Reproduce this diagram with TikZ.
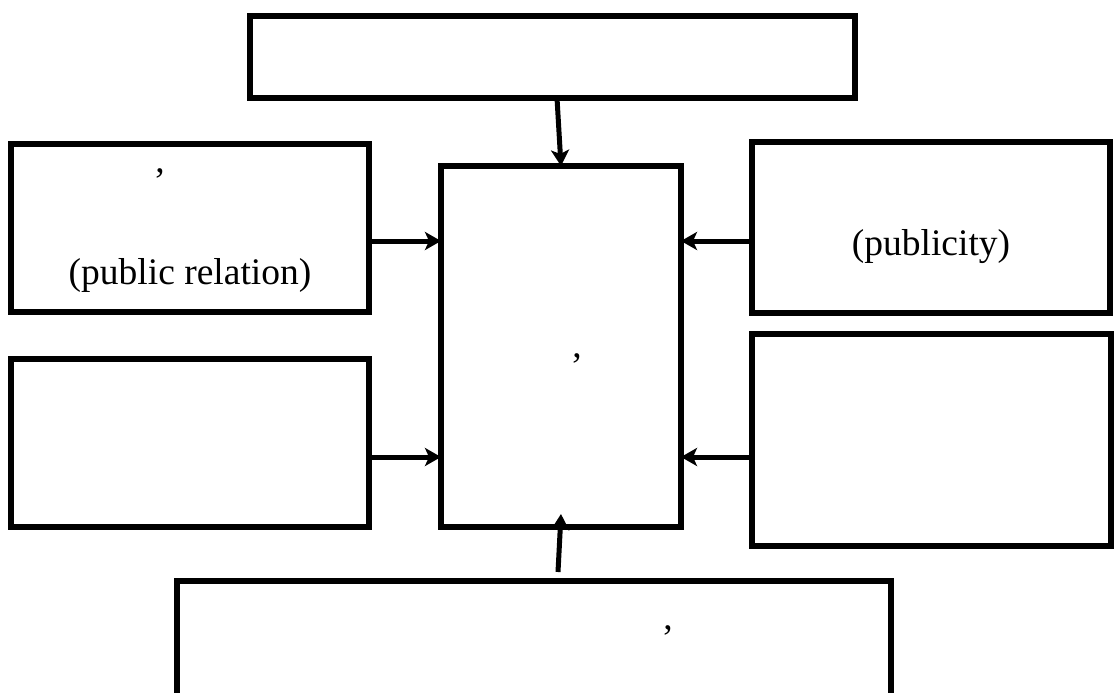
\documentclass[tikz,border=0pt]{standalone}
\usepackage{fontspec}
\setmainfont{Liberation Serif}
\usetikzlibrary{arrows.meta,calc}
\begin{document}
\begin{tikzpicture}[x=1pt,y=-1pt,
 box/.style={draw,line width=5.5pt,rectangle,inner sep=0pt,outer sep=0pt},
 arr/.style={line width=5pt,-{Stealth[length=16pt,width=18pt,inset=4pt]}},
 txt/.style={font=\fontsize{37.5}{40}\selectfont,inner sep=0pt,anchor=base}]
\useasboundingbox (0,0) rectangle (1117,693);
\clip (0,0) rectangle (1117,693);
% boxes
\node[box,minimum width=605pt,minimum height=82pt] (top) at (552.5,57) {};
\node[box,minimum width=358pt,minimum height=168pt] (lt) at (190,228) {};
\node[box,minimum width=358pt,minimum height=168pt] (lb) at (190,443) {};
\node[box,minimum width=240pt,minimum height=361pt] (c) at (561,346.5) {};
\node[box,minimum width=358pt,minimum height=171pt] (rt) at (931,227.5) {};
\node[box,minimum width=359pt,minimum height=212pt] (rb) at (931.5,440) {};
\node[box,minimum width=714pt,minimum height=129pt] (bot) at (534,645.5) {};
% texts
\node[txt] (lt1) at (160,172) {,};
\node[txt] (lt2) at (190,284) {(public relation)};
\node[txt] (rt1) at (931,255) {(publicity)};
\node[txt] (c1) at (577,357) {,};
\node[txt] (b1) at (668,629) {,};
% connectors
\coordinate (a1) at ($(lt.east)+(0,13)$);
\coordinate (a2) at ($(lb.east)+(0,14)$);
\coordinate (a3) at ($(rt.west)+(0,13.5)$);
\coordinate (a4) at ($(rb.west)+(0,17)$);
\draw[arr] (a1) -- (a1 -| c.west);
\draw[arr] (a2) -- (a2 -| c.west);
\draw[arr] (a3) -- (a3 -| c.east);
\draw[arr] (a4) -- (a4 -| c.east);
\coordinate (s1) at ($(top.south)+(4.5,0)$);
\coordinate (e1) at ($(c.north)+(0,0)$);
\draw[arr] (s1) -- (e1);
\coordinate (s2) at ($(bot.north)+(24,-9)$);
\coordinate (e2) at ($(c.south)+(0,-13)$);
\draw[arr] (s2) -- (e2);
\end{tikzpicture}
\end{document}
